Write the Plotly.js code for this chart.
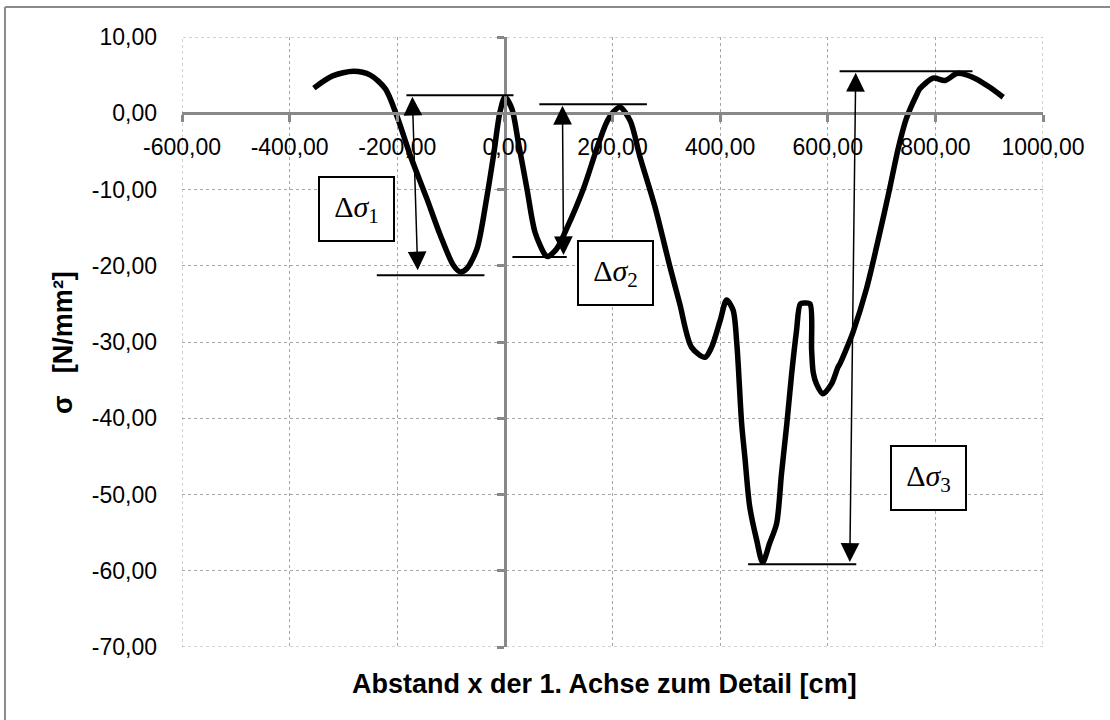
<!DOCTYPE html>
<html>
<head>
<meta charset="utf-8">
<script src="https://cdn.plot.ly/plotly-3.0.1.min.js"></script>
<style>html,body{margin:0;padding:0;background:#fff;}#plot{width:1110px;height:720px;}</style>
</head>
<body>
<div id="plot"></div>
<script>
// Curve: distance x [cm] and stress sigma [N/mm²]
const xDist = [-355, -320, -281, -250, -222, -201, -176, -145, -120, -96, -83, -71, -52, -34, -21, -9, 0, 13, 25, 41, 56, 75, 80, 96, 115, 146, 171, 189, 202, 214, 233, 251, 279, 307, 325, 347, 372, 384, 400, 412, 424, 431, 440, 446, 455, 468, 479, 492, 505, 514, 524, 533, 542, 549, 557, 567, 570, 573, 579, 591, 607, 619, 623, 641, 647, 672, 697, 715, 731, 746, 765, 771, 796, 818, 839, 849, 876, 901, 926];
const sigma = [3.3, 4.9, 5.5, 5.0, 3.2, -0.3, -5.5, -11.2, -16.0, -19.9, -20.8, -20.4, -17.8, -11.2, -5.5, 0.2, 2.1, 0.6, -3.8, -9.9, -15.6, -18.6, -18.8, -17.8, -15.1, -9.9, -4.6, -1.2, 0.2, 0.8, -1.0, -5.7, -12.3, -20.2, -25.0, -30.7, -32.0, -30.7, -27.2, -24.5, -25.8, -30.2, -40.7, -45.1, -51.6, -56.0, -58.9, -56.4, -53.8, -47.3, -40.7, -34.1, -28.5, -25.0, -24.9, -25.0, -31.0, -34.0, -35.5, -36.8, -35.5, -33.3, -32.8, -29.8, -28.7, -23.0, -15.6, -9.9, -4.6, -0.7, 2.4, 3.2, 4.6, 4.3, 5.2, 5.2, 4.5, 3.4, 2.1];

// Axis ticks
const xTicks = [-600, -400, -200, 0, 200, 400, 600, 800, 1000];
const yTicks = [10, 0, -10, -20, -30, -40, -50, -60, -70];
const xRange = [-600, 1000];
const yRange = [-70, 10];
const fmt = v => v.toFixed(2).replace('.', ',');
const xTickText = xTicks.map(fmt);
const yTickText = yTicks.map(fmt);

// Range markers (delta sigma)
const deltaLabels = ['Δ<i>σ</i><sub>1</sub>', 'Δ<i>σ</i><sub>2</sub>', 'Δ<i>σ</i><sub>3</sub>'];
const deltaTop = [2.35, 1.17, 5.5];
const deltaBottom = [-21.25, -18.85, -59.15];
const topLineX = [[-183, 16], [64, 264], [622, 869]];
const botLineX = [[-238, -38], [14, 115], [452, 653]];
const arrowTopX = [-172, 107, 652];
const arrowBotX = [-162, 109, 641];
const arrowBotY = [-20.6, -18.6, -58.85];
const boxX = [-275, 205, 788];
const boxY = [-12.5, -20.9, -47.9];

const gridCol = '#a6a6a6';
const axCol = '#888888';
const tickFont = {family: 'Liberation Sans, Arial, sans-serif', size: 23, color: '#000'};

const shapes = [];
const annotations = [];

shapes.push({type:'rect', xref:'x', yref:'y', x0:xRange[0], x1:xRange[1], y0:yRange[0], y1:yRange[1],
  line:{color:gridCol, width:1, dash:'dot'}, layer:'below'});
shapes.push({type:'line', xref:'paper', yref:'paper', x0:-0.2056, x1:-0.2056, y0:-0.3, y1:1.0492, line:{color:'#8a8a8a', width:2}});
shapes.push({type:'line', xref:'paper', yref:'paper', x0:-0.2056, x1:1.3, y0:1.0492, y1:1.0492, line:{color:'#8a8a8a', width:2}});

for (let i = 0; i < 3; i++) {
  shapes.push({type:'line', xref:'x', yref:'y', x0:topLineX[i][0], x1:topLineX[i][1], y0:deltaTop[i], y1:deltaTop[i], line:{color:'#000', width:2}});
  shapes.push({type:'line', xref:'x', yref:'y', x0:botLineX[i][0], x1:botLineX[i][1], y0:deltaBottom[i], y1:deltaBottom[i], line:{color:'#000', width:2}});
  annotations.push({x:arrowBotX[i], y:arrowBotY[i], ax:arrowTopX[i], ay:deltaTop[i], xref:'x', yref:'y', axref:'x', ayref:'y',
    text:'', showarrow:true, arrowside:'end+start', arrowhead:2, startarrowhead:2, arrowsize:2.5, startarrowsize:2.5,
    arrowwidth:1.5, arrowcolor:'#000', standoff:0, startstandoff:0});
  annotations.push({x:boxX[i], y:boxY[i], xref:'x', yref:'y', text:deltaLabels[i], showarrow:false,
    font:{family:'Liberation Serif, DejaVu Serif, serif', size:30, color:'#000'},
    bgcolor:'#fff', bordercolor:'#000', borderwidth:2, borderpad:0, width:73, height:62, align:'center', valign:'middle'});
}

annotations.push({xref:'paper', yref:'paper', x:0.4907, y:-0.061, xanchor:'center', yanchor:'middle', showarrow:false,
  text:'<b>Abstand x der 1. Achse zum Detail [cm]</b>', font:{family:'Liberation Sans, Arial, sans-serif', size:27, color:'#000'}});
annotations.push({xref:'paper', yref:'paper', x:-0.1388, y:0.499, xanchor:'center', yanchor:'middle', showarrow:false, textangle:-90,
  text:'<b>σ&nbsp;&nbsp;&nbsp;[N/mm²]</b>', font:{family:'Liberation Sans, Arial, sans-serif', size:27, color:'#000'}});

const traces = [
  {x:xDist, y:sigma, type:'scatter', mode:'lines', line:{color:'#000', width:5.5, shape:'spline', smoothing:0.8}, hoverinfo:'skip', showlegend:false},
  {x:[], y:[], type:'scatter', mode:'lines', xaxis:'x', yaxis:'y2', showlegend:false, hoverinfo:'skip'}
];

const layout = {
  width:1110, height:720,
  margin:{l:182, r:67, t:37, b:73, pad:0},
  paper_bgcolor:'#fff', plot_bgcolor:'#fff',
  showlegend:false,
  xaxis:{range:xRange, tickvals:xTicks, ticktext:xTickText, anchor:'free', position:0.875,
    showline:true, linecolor:axCol, linewidth:3, ticks:'outside', ticklen:7, tickwidth:3, tickcolor:axCol,
    showgrid:true, gridcolor:gridCol, gridwidth:1, griddash:'dot', zeroline:false,
    tickfont:tickFont, ticklabelstandoff:5, fixedrange:true},
  yaxis:{range:yRange, tickvals:yTicks, ticktext:yTickText, showline:false, ticks:'',
    showgrid:true, gridcolor:gridCol, gridwidth:1, griddash:'dot', zeroline:false,
    tickfont:tickFont, ticklabelstandoff:24, fixedrange:true},
  yaxis2:{range:yRange, tickvals:yTicks, overlaying:'y', anchor:'free', position:0.375, side:'left',
    showline:true, linecolor:axCol, linewidth:3, ticks:'outside', ticklen:7, tickwidth:3, tickcolor:axCol,
    showticklabels:false, showgrid:false, zeroline:false, fixedrange:true},
  shapes:shapes,
  annotations:annotations
};

Plotly.newPlot('plot', traces, layout, {displayModeBar:false, staticPlot:true});
</script>
</body>
</html>
